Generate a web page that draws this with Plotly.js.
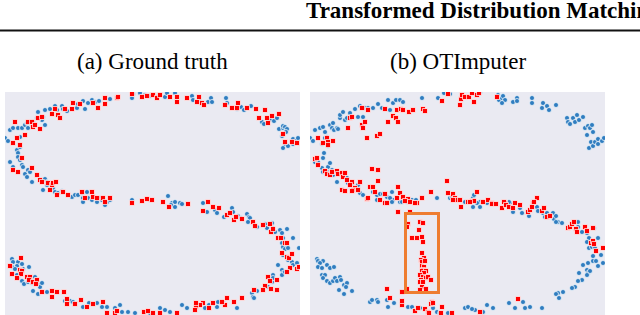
<!DOCTYPE html>
<html>
<head>
<meta charset="utf-8">
<script src="https://cdn.plot.ly/plotly-3.0.1.min.js"></script>
<style>html,body{margin:0;padding:0;background:#fff;}#chart{width:640px;height:315px;}</style>
</head>
<body>
<div id="chart"></div>
<script>
// Data (arbitrary units: x 0..295 across a panel, y 0..223 up the panel)
const headerText = "Transformed Distribution Matching";
const panelTitles = ["(a) Ground truth", "(b) OTImputer"];

const gtObserved = [
[0,177],[3,174],[5,185],[8,187],[13,187],[17,187],[15,178],[20,190],[23,187],[27,190],[22,192],[28,193],[32,197],[33,203],[37,195],[38,198],[40,190],[40,205],[45,206],[50,209],[52,205],[57,209],[58,206],[62,204],[72,207],[73,211],[78,214],[80,206],[83,212],[87,215],[90,213],[94,214],[105,216],[127,217],[128,221],[135,222],[140,220],[145,219],[152,218],
[160,218],[162,222],[170,222],[187,219],[188,215],[194,215],[203,213],[206,217],[207,213],[221,217],[222,212],[232,206],[236,208],[239,205],[246,209],[257,193],[259,191],[265,195],[269,194],[272,197],[274,186],[278,187],[278,189],[280,188],[282,186],[281,183],[277,179],[280,171],[283,169],[278,167],[288,176],[291,174],[293,177],[288,171],
[5,153],[8,148],[12,165],[13,162],[13,158],[15,168],[15,155],[17,150],[18,148],[13,143],[20,141],[22,138],[23,145],[25,143],[27,133],[32,140],[37,135],[40,136],[42,133],[42,130],[38,125],[48,127],[50,123],[53,122],[57,124],[58,123],[67,118],[70,120],[73,120],[77,122],[78,117],[82,123],[83,117],[87,115],[90,117],[92,113],[95,117],[97,115],[102,113],[105,115],[127,115],[145,115],[78,113],[100,110],
[163,119],[167,112],[170,113],[175,112],[198,112],[166,110],[170,108],[177,111],[202,103],[210,105],[212,102],[219,98],[227,107],[228,103],[233,99],[236,97],[242,101],[244,98],[245,97],[243,93],[249,91],[252,88],[260,91],[262,87],[267,92],[268,87],[270,83],[275,85],[282,86],[277,82],[278,77],[288,77],[277,72],[278,68],[280,66],[282,70],[283,67],[294,67],[278,60],[283,55],[287,53],[288,50],[292,52],[273,50],[277,45],[278,42],[277,40],[280,43],[268,40],[267,33],[263,28],[252,24],[247,22],[248,18],[249,17],[232,7],[218,13],[212,8],[213,13],[200,7],[204,10],[182,7],[177,10],[160,5],[155,7],[165,3],[268,37],
[7,56],[8,53],[13,53],[12,49],[17,51],[7,48],[10,46],[18,46],[24,48],[12,40],[13,37],[17,34],[19,31],[23,33],[27,32],[30,38],[31,35],[33,31],[35,28],[37,32],[28,24],[33,21],[42,23],[60,14],[65,14],[68,13],[78,8],[84,12],[92,12],[97,8],[102,8],[110,7],[115,10],[123,3],[130,2],[145,2],[117,3]
];

const gtMissing = [
[10,193],[12,177],[8,172],[15,170],[20,180],[23,193],[27,193],[28,188],[30,190],[33,197],[35,186],[37,198],[47,201],[50,206],[53,200],[55,197],[60,206],[67,206],[68,212],[75,211],[88,212],[93,207],[100,217],[100,211],[112,217],[113,218],[127,221],[137,218],[142,219],[148,220],[152,217],
[155,220],[165,218],[172,218],[172,213],[182,217],[192,213],[194,218],[197,212],[199,210],[220,210],[227,207],[232,207],[233,212],[242,207],[251,206],[260,205],[254,197],[262,197],[267,199],[263,192],[274,201],[278,181],[280,173],[287,173],[292,172],
[8,145],[13,143],[17,157],[27,147],[32,140],[35,135],[37,133],[43,132],[47,130],[48,132],[51,133],[45,125],[52,120],[58,123],[63,120],[77,123],[80,117],[87,123],[88,118],[92,117],[98,117],[100,113],[105,117],[127,112],[137,114],[142,116],[147,115],
[158,113],[164,108],[183,111],[198,104],[203,113],[208,108],[214,107],[222,100],[225,102],[229,95],[231,98],[237,96],[248,93],[250,89],[258,90],[265,91],[266,83],[268,86],[273,77],[276,77],[280,72],[282,72],[277,62],[282,58],[284,57],[287,61],[292,46],[294,48],[285,47],[282,43],[263,38],[265,34],[272,35],[260,29],[266,26],[272,25],[258,25],[249,25],[237,17],[222,17],[229,13],[220,10],[217,13],[208,12],[204,7],[198,12],[195,10],[191,8],[191,12],[190,5],[172,2],[155,2],
[16,57],[5,49],[15,45],[17,44],[16,41],[7,41],[12,37],[22,38],[25,38],[24,35],[28,33],[32,35],[31,31],[37,23],[47,24],[47,18],[52,23],[59,23],[62,16],[62,11],[70,11],[76,15],[82,8],[88,11],[98,13],[102,2],[110,2],[112,4],[139,3],[143,4],[148,2]
];

const otObserved = [
[0,177],[3,174],[5,185],[10,187],[13,188],[15,183],[15,177],[17,178],[12,171],[17,173],[18,169],[20,190],[22,187],[23,192],[24,185],[27,187],[28,186],[30,197],[30,200],[33,203],[35,195],[37,197],[40,202],[45,206],[48,198],[50,209],[55,207],[58,207],[63,207],[53,198],[68,211],[72,207],[78,215],[80,205],[83,212],[86,215],[90,215],[93,213],[112,217],[128,217],[134,222],[140,221],[163,222],
[170,223],[188,220],[189,215],[192,217],[193,219],[195,215],[192,212],[203,213],[207,217],[207,214],[222,217],[222,212],[232,207],[233,212],[237,209],[239,205],[246,210],[257,197],[258,193],[260,191],[263,197],[265,193],[267,200],[269,195],[273,198],[275,187],[277,180],[278,189],[280,187],[282,190],[283,183],[281,173],[279,167],[283,169],[285,173],[288,176],[288,171],[292,174],[294,177],
[5,153],[8,153],[13,157],[14,162],[12,147],[13,143],[17,143],[18,148],[20,152],[22,145],[23,140],[25,143],[27,133],[32,140],[37,137],[38,132],[42,130],[45,125],[48,130],[50,122],[53,120],[63,123],[67,120],[70,121],[73,121],[77,118],[78,113],[82,123],[83,115],[87,117],[90,113],[93,117],[95,115],[102,115],[105,113],[112,117],[127,117],[140,117],[148,115],[155,113],[163,117],
[67,115],[80,117],[82,113],[92,113],[97,113],[106,115],[142,118],[158,113],
[164,120],[170,113],[173,113],[200,112],
[163,108],[167,112],[170,108],[177,112],[195,112],[199,113],[202,108],[203,103],[210,107],[212,102],[219,99],[227,108],[228,104],[233,102],[235,98],[237,102],[243,102],[244,96],[246,99],[248,93],[252,92],[246,93],[263,91],[268,93],[268,88],[272,83],[277,82],[279,77],[284,87],[288,77],[277,73],[279,67],[282,68],[285,67],[283,59],[291,60],[283,54],[286,54],[293,52],[288,49],[278,52],[273,50],[277,45],[278,42],[280,44],[277,40],[269,42],[272,35],[268,34],[265,28],[262,27],[253,23],[248,22],[246,21],[249,17],[213,13],[220,8],[232,7],[215,7],[205,7],[199,12],[177,10],[183,7],[173,3],[165,5],
[7,56],[8,54],[13,54],[10,52],[17,50],[8,48],[12,47],[20,47],[24,48],[12,40],[15,40],[13,37],[17,34],[20,32],[23,34],[25,37],[27,34],[30,38],[31,35],[34,30],[37,32],[36,28],[29,25],[34,21],[42,24],[60,13],[62,15],[67,15],[68,13],[77,15],[78,8],[84,12],[92,12],[98,8],[102,8],[110,7],[115,6],[123,7],[127,3],[130,2],[138,2],[155,7],[158,8],[162,6]
];

const otImputed = [
[8,177],[13,172],[17,177],[18,173],[18,170],[23,174],[38,187],[40,197],[42,198],[52,190],[53,187],[55,193],[57,177],[52,207],[58,205],[67,179],[70,181],[75,206],[78,193],[83,199],[86,197],[87,205],[88,193],[91,206],[93,205],[99,203],[103,205],[113,206],[115,204],[132,214],[138,221],[150,210],[151,216],[152,220],[155,218],[159,218],[162,222],[164,213],[167,220],[169,222],[187,218],
[5,156],[7,157],[8,150],[15,144],[17,141],[20,140],[22,143],[27,144],[28,141],[32,142],[33,138],[35,142],[37,135],[42,133],[40,130],[45,127],[43,125],[50,133],[48,125],[42,124],[57,116],[32,125],[35,124],[62,146],[68,145],[68,134],[60,128],[63,128],[65,123],[75,121],[75,112],[88,128],[90,122],[93,118],[98,116],[100,113],[107,112],[121,123],[137,134],[138,122],[143,121],[145,117],[147,115],[150,115],[158,113],[162,114],
[167,123],[164,114],[178,115],[182,112],[195,112],[205,112],[223,112],[227,117],
[58,117],[70,115],[77,112],[87,117],[95,114],[105,112],[112,117],[88,103],[100,103],[143,115],[151,108],[160,113],
[173,113],[182,111],[186,111],[192,107],[194,113],[196,110],[199,108],[203,107],[210,110],[218,103],[220,105],[222,108],[224,113],[232,104],[234,107],[237,98],[240,99],[258,87],[260,88],[262,91],[264,93],[266,86],[267,83],[275,88],[277,84],[283,87],[281,72],[283,74],[284,71],[286,64],[293,67],[208,16],[170,3],
[98,91],[97,88],[110,93],[113,92],[109,85],[102,77],[107,77],[112,78],[113,73],[112,62],[114,57],[111,55],[112,53],[115,54],[112,49],[114,48],[113,45],[112,44],[116,44],[114,42],[110,40],[113,38],[116,37],[118,38],[111,35],[121,35],[110,33],[113,33],[112,28],[110,25],[116,26],[97,26],
[77,26],[80,17],[92,23],[92,10],[92,14],[122,13],[121,11],[123,12],[115,6],[118,3],[119,2],[105,4],[108,7],[131,2],[142,2],[132,8]
];

// highlighted region in panel (b): [x0, x1, y0, y1]
const highlightBox = [95.5, 128.5, 22.5, 101.5];

const W = 640, H = 315;
const BLUE = '#2f7dc0', RED = '#ff0000';
const SERIF = 'Liberation Serif, Times New Roman, serif';

function trace(points, xa, ya, color, symbol) {
  return {
    type: 'scatter', mode: 'markers',
    x: points.map(p => p[0]), y: points.map(p => p[1]),
    xaxis: xa, yaxis: ya, cliponaxis: true,
    marker: { color: color, symbol: symbol, size: 5, line: { color: '#ffffff', width: 0.7 } },
    hoverinfo: 'skip', showlegend: false
  };
}

const data = [
  trace(gtObserved, 'x', 'y', BLUE, 'circle'),
  trace(gtMissing, 'x', 'y', RED, 'square'),
  trace(otObserved, 'x2', 'y2', BLUE, 'circle'),
  trace(otImputed, 'x2', 'y2', RED, 'square')
];

const axisCommon = { showgrid: false, zeroline: false, showticklabels: false, ticks: '', showline: false, fixedrange: true };
const plotTop = 1 - 92 / H;

const layout = {
  width: W, height: H,
  margin: { l: 0, r: 0, t: 0, b: 0, pad: 0 },
  paper_bgcolor: '#ffffff', plot_bgcolor: '#eaeaf2',
  xaxis: Object.assign({ domain: [5 / W, 300 / W], range: [0, 295], anchor: 'y' }, axisCommon),
  yaxis: Object.assign({ domain: [0, plotTop], range: [0, 223], anchor: 'x' }, axisCommon),
  xaxis2: Object.assign({ domain: [310 / W, 605 / W], range: [0, 295], anchor: 'y2' }, axisCommon),
  yaxis2: Object.assign({ domain: [0, plotTop], range: [0, 223], anchor: 'x2' }, axisCommon),
  shapes: [
    { type: 'line', xref: 'paper', yref: 'paper', x0: 0, x1: 1, y0: 1 - 30.5 / H, y1: 1 - 30.5 / H, line: { color: '#111111', width: 2 } },
    { type: 'rect', xref: 'x2', yref: 'y2', x0: highlightBox[0], x1: highlightBox[1], y0: highlightBox[2], y1: highlightBox[3], line: { color: '#ee7d31', width: 3 }, fillcolor: 'rgba(0,0,0,0)' }
  ],
  annotations: [
    { text: '<b>' + headerText + '</b>', xref: 'paper', yref: 'paper', x: 304 / W, y: 1 - 11 / H, xanchor: 'left', yanchor: 'middle', showarrow: false, font: { family: SERIF, size: 23, color: '#000' } },
    { text: panelTitles[0], xref: 'paper', yref: 'paper', x: 152.5 / W, y: 1 - 62 / H, xanchor: 'center', yanchor: 'middle', showarrow: false, font: { family: SERIF, size: 23, color: '#000' } },
    { text: panelTitles[1], xref: 'paper', yref: 'paper', x: 457.5 / W, y: 1 - 62 / H, xanchor: 'center', yanchor: 'middle', showarrow: false, font: { family: SERIF, size: 23, color: '#000' } }
  ]
};

Plotly.newPlot('chart', data, layout, { displayModeBar: false, staticPlot: true });
</script>
</body>
</html>
